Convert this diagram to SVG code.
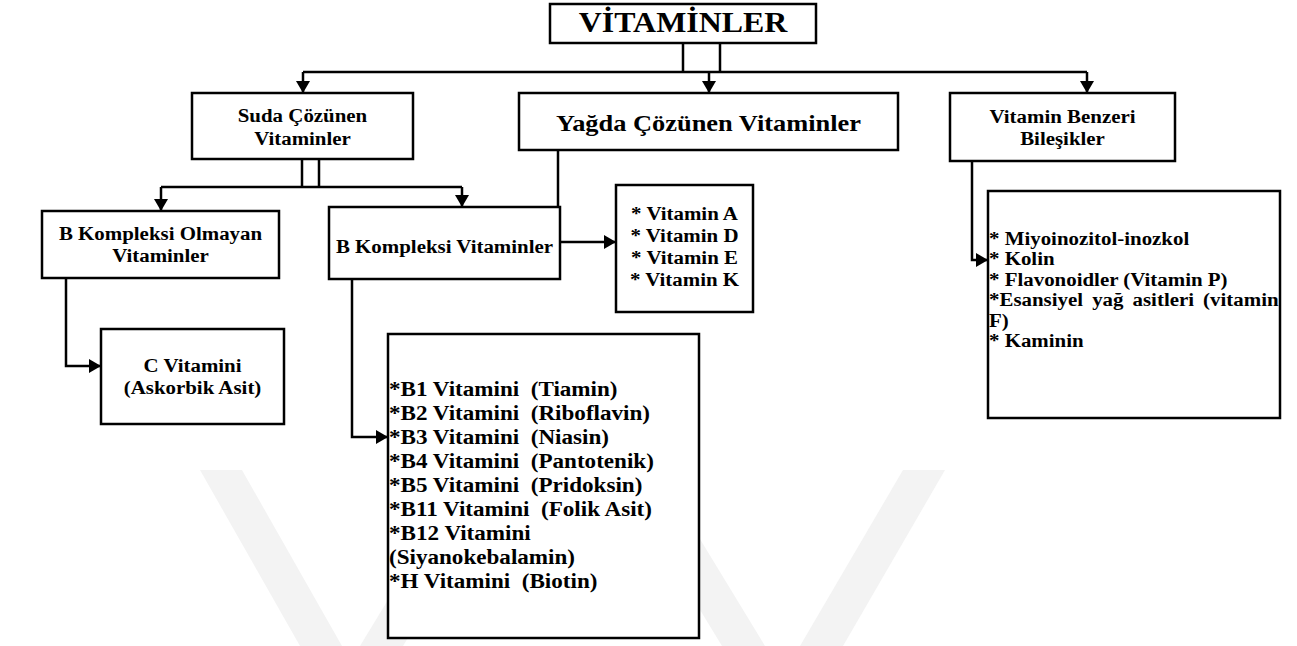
<svg xmlns="http://www.w3.org/2000/svg" width="1297" height="646" viewBox="0 0 1297 646">
<style>
.box{fill:#fff;stroke:#000;stroke-width:2.5}
.ln{fill:none;stroke:#000;stroke-width:2.5}
.t{font-weight:bold;fill:#000}
.c{text-anchor:middle}
.wm{fill:#f3f3f3}
</style>
<defs>
<marker id="ah" markerUnits="userSpaceOnUse" markerWidth="12" markerHeight="14" refX="12" refY="7" orient="auto">
<path d="M0,0 L12,7 L0,14 z" fill="#000"/>
</marker>
</defs>
<rect width="1297" height="646" fill="#fff"/>
<g id="watermark">
<polygon class="wm" points="200,470 242,470 342,646 300,646"/>
<polygon class="wm" points="360,646 403,646 510,470 467,470"/>
<polygon class="wm" points="615,470 658,470 765,646 722,646"/>
<polygon class="wm" points="800,646 843,646 945,470 903,470"/>
</g>
<g id="connectors">
<path class="ln" d="M683,43 V72 M720,43 V72"/>
<path class="ln" d="M303,72 H1087"/>
<path class="ln" d="M303,72 V93" marker-end="url(#ah)"/>
<path class="ln" d="M709,72 V93" marker-end="url(#ah)"/>
<path class="ln" d="M1087,72 V93" marker-end="url(#ah)"/>
<path class="ln" d="M302,159 V187 M319,159 V187"/>
<path class="ln" d="M161,187 H462"/>
<path class="ln" d="M161,187 V211" marker-end="url(#ah)"/>
<path class="ln" d="M462,187 V207" marker-end="url(#ah)"/>
<path class="ln" d="M558,151 V207"/>
<path class="ln" d="M560,242 H616" marker-end="url(#ah)"/>
<path class="ln" d="M352,279 V437 H388" marker-end="url(#ah)"/>
<path class="ln" d="M66,278 V366 H101" marker-end="url(#ah)"/>
<path class="ln" d="M972,161 V260 H988" marker-end="url(#ah)"/>
</g>
<g font-family="'Liberation Serif', 'Times New Roman', Tinos, 'DejaVu Serif', serif">
<g id="vitaminler">
<rect class="box" x="550" y="4" width="266" height="39"/>
<text class="t c" font-size="29" transform="matrix(1.1 0 0 1 683 0)"><tspan x="0" y="32">VİTAMİNLER</tspan></text>
</g>
<g id="suda">
<rect class="box" x="192" y="93" width="221" height="66"/>
<text class="t c" font-size="19" transform="matrix(1.1 0 0 1 302.5 0)"><tspan x="0" y="122">Suda Çözünen</tspan><tspan x="0" y="145">Vitaminler</tspan></text>
</g>
<g id="yagda">
<rect class="box" x="519" y="93" width="379" height="57"/>
<text class="t c" font-size="24" transform="matrix(1.1 0 0 1 708.5 0)"><tspan x="0" y="131">Yağda Çözünen Vitaminler</tspan></text>
</g>
<g id="benzeri">
<rect class="box" x="950" y="93" width="225" height="68"/>
<text class="t c" font-size="19" transform="matrix(1.1 0 0 1 1062.5 0)"><tspan x="0" y="123">Vitamin Benzeri</tspan><tspan x="0" y="145">Bileşikler</tspan></text>
</g>
<g id="b-olmayan">
<rect class="box" x="42" y="211" width="237" height="67"/>
<text class="t c" font-size="19" transform="matrix(1.1 0 0 1 160.5 0)"><tspan x="0" y="240">B Kompleksi Olmayan</tspan><tspan x="0" y="262">Vitaminler</tspan></text>
</g>
<g id="b-kompleksi">
<rect class="box" x="329" y="207" width="231" height="72"/>
<text class="t c" font-size="19" transform="matrix(1.1 0 0 1 444.5 0)"><tspan x="0" y="253">B Kompleksi Vitaminler</tspan></text>
</g>
<g id="c-vitamini">
<rect class="box" x="101" y="329" width="183" height="95"/>
<text class="t c" font-size="19" transform="matrix(1.1 0 0 1 192.5 0)"><tspan x="0" y="372">C Vitamini</tspan><tspan x="0" y="394">(Askorbik Asit)</tspan></text>
</g>
<g id="yagda-list">
<rect class="box" x="616" y="185" width="137" height="127"/>
<text class="t c" font-size="19" transform="matrix(1.1 0 0 1 684.5 0)"><tspan x="0" y="220">* Vitamin A</tspan><tspan x="0" y="242">* Vitamin D</tspan><tspan x="0" y="264">* Vitamin E</tspan><tspan x="0" y="286">* Vitamin K</tspan></text>
</g>
<g id="b-list">
<rect class="box" x="388" y="334" width="311" height="304"/>
<text class="t" font-size="21" transform="matrix(1.1 0 0 1 389 0)"><tspan x="0" y="396">*B1 Vitamini&#160; (Tiamin)</tspan><tspan x="0" y="420">*B2 Vitamini&#160; (Riboflavin)</tspan><tspan x="0" y="444">*B3 Vitamini&#160; (Niasin)</tspan><tspan x="0" y="468">*B4 Vitamini&#160; (Pantotenik)</tspan><tspan x="0" y="492">*B5 Vitamini&#160; (Pridoksin)</tspan><tspan x="0" y="516">*B11 Vitamini&#160; (Folik Asit)</tspan><tspan x="0" y="540">*B12 Vitamini</tspan><tspan x="0" y="564">(Siyanokebalamin)</tspan><tspan x="0" y="588">*H Vitamini&#160; (Biotin)</tspan></text>
</g>
<g id="benzeri-list">
<rect class="box" x="988" y="191" width="292" height="227"/>
<text class="t" font-size="19" transform="matrix(1.1 0 0 1 989 0)"><tspan x="0" y="245">* Miyoinozitol-inozkol</tspan><tspan x="0" y="265.5">* Kolin</tspan><tspan x="0" y="286">* Flavonoidler (Vitamin P)</tspan><tspan x="0" y="306.5" word-spacing="3.5">*Esansiyel yağ asitleri (vitamin</tspan><tspan x="0" y="327">F)</tspan><tspan x="0" y="347">* Kaminin</tspan></text>
</g>
</g>
</svg>
